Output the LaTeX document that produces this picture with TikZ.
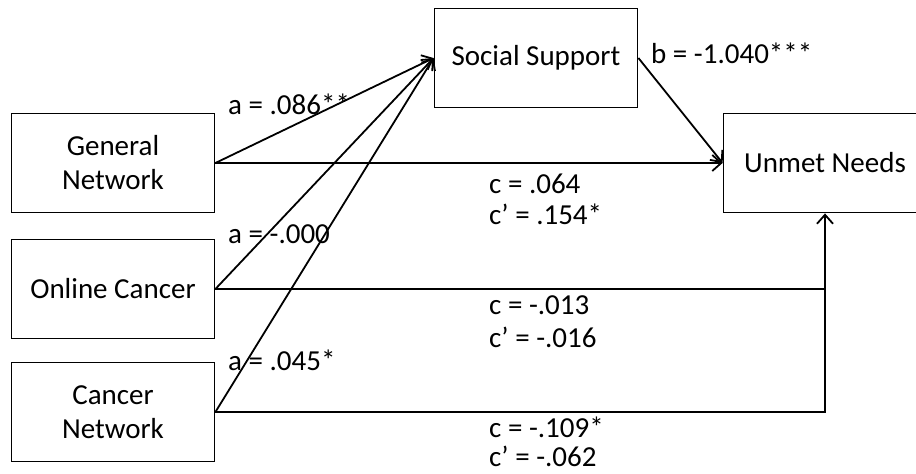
\documentclass[tikz,border=0pt]{standalone}
\usepackage{fontspec}
\setmainfont{Carlito}
\usetikzlibrary{arrows.meta}
\begin{document}
\begin{tikzpicture}[x=1pt,y=-1pt,
  box/.style={draw,line width=1.8pt,minimum width=203pt,minimum height=99pt,inner sep=0pt,align=center,font=\fontsize{29}{34}\selectfont},
  lbl/.style={anchor=west,inner sep=0pt,font=\fontsize{29}{34}\selectfont},
  conn/.style={line width=1.8pt},
  arr/.style={conn,-{Straight Barb[length=9pt,width=16pt,line width=1.8pt]}}]
\useasboundingbox (0,0) rectangle (916,474);
\clip (0,0) rectangle (916,474);
\node[box] (gn) at (113,163) {General\\Network};
\node[box] (oc) at (113,289) {Online Cancer};
\node[box] (cn) at (113,412) {Cancer\\Network};
\node[box] (ss) at (536,58) {Social Support};
\node[box] (un) at (825,163) {Unmet Needs};
\coordinate (j) at (825,412);
\draw[arr] (gn.east) -- (ss.west);
\draw[arr] (oc.east) -- (ss.west);
\draw[arr] (cn.east) -- (ss.west);
\draw[arr] (gn.east) -- (un.west);
\draw[arr] (ss.east) -- (un.west);
\draw[conn] (oc.east) -- (oc.east -| j);
\draw[arr] (cn.east) -- (j) -- (un.south);
\node[lbl] (la1) at (228,104) {a = .086**};
\node[lbl] (la2) at (228,234) {a = -.000};
\node[lbl] (la3) at (228,360) {a = .045*};
\node[lbl] (lb) at (651,53) {b = -1.040***};
\node[lbl] (lc1) at (489,184) {c = .064};
\node[lbl] (lc1p) at (489,214) {c’ = .154*};
\node[lbl] (lc2) at (489,305) {c = -.013};
\node[lbl] (lc2p) at (489,337) {c’ = -.016};
\node[lbl] (lc3) at (489,427) {c = -.109*};
\node[lbl] (lc3p) at (489,456) {c’ = -.062};
\end{tikzpicture}
\end{document}
